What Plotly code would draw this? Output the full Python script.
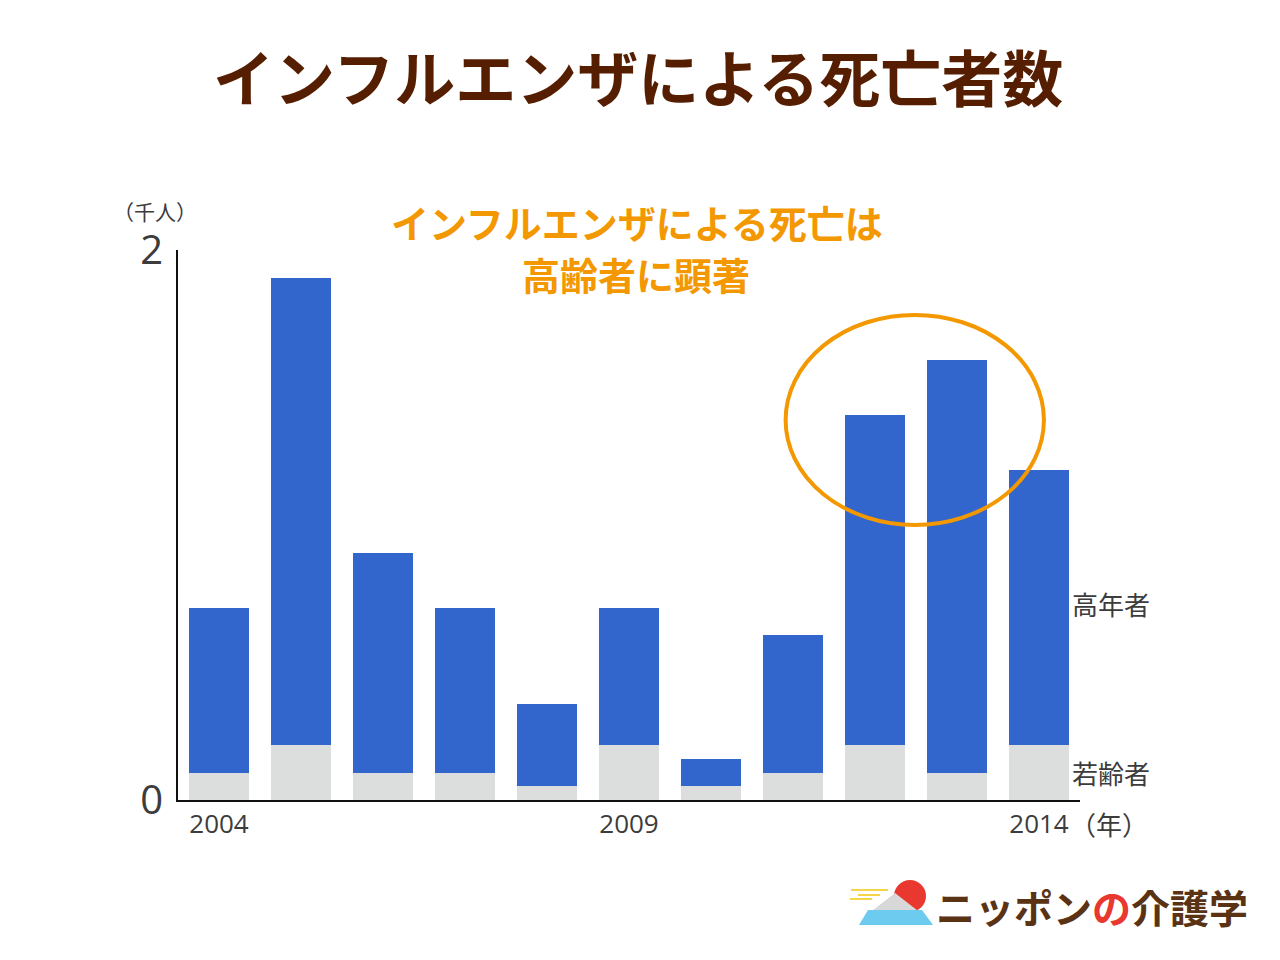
import plotly.graph_objects as go

years = [2004, 2005, 2006, 2007, 2008, 2009, 2010, 2011, 2012, 2013, 2014]
totals = [0.7, 1.9, 0.9, 0.7, 0.35, 0.7, 0.15, 0.6, 1.4, 1.6, 1.2]
young = [0.1, 0.2, 0.1, 0.1, 0.05, 0.2, 0.05, 0.1, 0.2, 0.1, 0.2]
elderly = [round(t - y, 3) for t, y in zip(totals, young)]
x_ticks = [2004, 2009, 2014]
y_ticks = [0, 2]

BLUE = "#3366cc"
GREY = "#dcdddd"
BROWN = "#561e00"
ORANGE = "#f39800"
TXT = "#3c3c3c"
JP = "Noto Sans CJK JP"

OFF = 8  # page body margin
# plot area in screen pixels
L, R, T, B = 178, 1080, 250, 800
W, H = 1280, 960


def px(x):
    return (x - L) / (R - L)


def py(y):
    return (B - y) / (B - T)


fig = go.Figure()
fig.add_trace(go.Bar(x=years, y=young, marker=dict(color=GREY, line=dict(width=0)),
                     name="若齢者", hoverinfo="x+y"))
fig.add_trace(go.Bar(x=years, y=elderly, marker=dict(color=BLUE, line=dict(width=0)),
                     name="高年者", hoverinfo="x+y"))

fig.update_layout(
    width=W, height=H,
    barmode="stack", bargap=0.28,
    showlegend=False,
    plot_bgcolor="white", paper_bgcolor="white",
    margin=dict(l=L - OFF, r=W - (R - OFF), t=T - OFF, b=H - (B - OFF), autoexpand=False),
    xaxis=dict(range=[2003.5, 2014.5], tickvals=x_ticks, ticktext=[str(v) for v in x_ticks],
               showgrid=False, zeroline=False, showline=True, linecolor="#111", linewidth=2,
               ticks="", ticklabelstandoff=0,
               tickfont=dict(family="Open Sans, " + JP, size=26, color=TXT)),
    yaxis=dict(range=[0, 2], tickvals=y_ticks, ticktext=[str(v) for v in y_ticks],
               showgrid=False, zeroline=False, showline=True, linecolor="#111", linewidth=2,
               ticks="", ticklabelstandoff=5,
               tickfont=dict(family="Open Sans, " + JP, size=40, color=TXT)),
    font=dict(family=JP),
)

annotations = [
    dict(text="<b>インフルエンザによる死亡者数</b>", x=px(638), y=py(76),
         font=dict(family=JP, size=61, color=BROWN)),
    dict(text="<b>インフルエンザによる死亡は</b>", x=px(637), y=py(222),
         font=dict(family=JP, size=38, color=ORANGE)),
    dict(text="<b>高齢者に顕著</b>", x=px(636), y=py(273),
         font=dict(family=JP, size=38, color=ORANGE)),
    dict(text="（千人）", x=px(155), y=py(211),
         font=dict(family=JP, size=21, color=TXT)),
    dict(text="高年者", x=px(1070), y=py(603), xanchor="left",
         font=dict(family=JP, size=26, color=TXT)),
    dict(text="若齢者", x=px(1070), y=py(772), xanchor="left",
         font=dict(family=JP, size=26, color=TXT)),
    dict(text="（年）", x=px(1068), y=py(823), xanchor="left",
         font=dict(family=JP, size=26, color=TXT)),
    dict(text="<b>ニッポン<span style='color:#e8382f'>の</span>介護学</b>", x=px(934), y=py(906),
         xanchor="left", font=dict(family=JP, size=39, color="#5a3214")),
]
for a in annotations:
    a.setdefault("xanchor", "center")
    fig.add_annotation(xref="paper", yref="paper", yanchor="middle", showarrow=False, **a)

# highlight ellipse
fig.add_shape(type="circle", xref="x", yref="y", x0=2010.91, x1=2014.06, y0=1.0, y1=1.764,
              line=dict(color=ORANGE, width=4), fillcolor="rgba(0,0,0,0)")


# logo: sun, mountain, clouds
def rect_px(x0, y0, x1, y1, color):
    fig.add_shape(type="rect", xref="paper", yref="paper", x0=px(x0), x1=px(x1),
                  y0=py(y1), y1=py(y0), line=dict(width=0), fillcolor=color)


fig.add_shape(type="circle", xref="paper", yref="paper", x0=px(894), x1=px(926),
              y0=py(912), y1=py(880), line=dict(width=0), fillcolor="#e8382f")
path_white = "M {} {} L {} {} L {} {} Z".format(px(895), py(893), px(922), py(914), px(868), py(914))
fig.add_shape(type="path", xref="paper", yref="paper", path=path_white,
              line=dict(width=0), fillcolor="#d8d8d8")
path_blue = "M {} {} L {} {} L {} {} L {} {} Z".format(px(868), py(910), px(922), py(910),
                                                       px(933), py(925), px(859), py(925))
fig.add_shape(type="path", xref="paper", yref="paper", path=path_blue,
              line=dict(width=0), fillcolor="#6ccbee")
rect_px(851, 889, 888, 891, "#f5d547")
rect_px(858, 894, 880, 896, "#f5d547")
rect_px(850, 898, 872, 900, "#f5d547")

fig.write_html("out.html")
